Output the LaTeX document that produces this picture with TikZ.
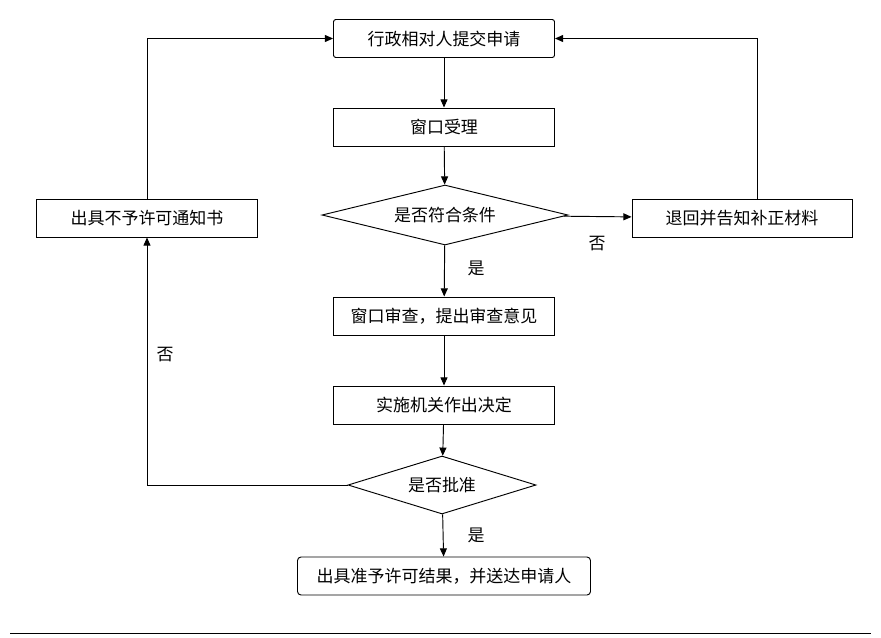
\documentclass[tikz,border=0pt]{standalone}
\usepackage{fontspec}
\setmainfont{Noto Sans CJK SC}
\usetikzlibrary{shapes.geometric,arrows.meta}
\begin{document}
\begin{tikzpicture}[x=0.03cm,y=-0.03cm,
  box/.style={draw,thick,minimum width=221*0.03cm,minimum height=38*0.03cm,inner sep=0pt,font=\fontsize{14.5}{16}\selectfont},
  dia/.style={draw,thick,diamond,aspect=4.2,inner sep=0pt,font=\fontsize{14.5}{16}\selectfont},
  lab/.style={font=\fontsize{14.5}{16}\selectfont},
  arr/.style={thick,-{Triangle[length=7pt,width=6pt]}}]
\useasboundingbox (0,0) rectangle (881,637);
\node[box,rounded corners=2pt] (a) at (444,38.5) {行政相对人提交申请};
\node[box] (b) at (444,127) {窗口受理};
\node[dia,minimum width=246*0.03cm,minimum height=60*0.03cm] (c) at (445,215) {是否符合条件};
\node[box,minimum width=220*0.03cm] (r) at (742,218) {退回并告知补正材料};
\node[box] (l) at (147,218) {出具不予许可通知书};
\node[box] (d) at (444,316) {窗口审查，提出审查意见};
\node[box] (e) at (444,405) {实施机关作出决定};
\node[dia,minimum width=188*0.03cm,minimum height=58*0.03cm] (f) at (442,485) {是否批准};
\node[box,rounded corners=3pt,minimum width=293*0.03cm] (g) at (444,576) {出具准予许可结果，并送达申请人};
\draw[arr] (a) -- (b);
\draw[arr] (b) -- (c);
\draw[arr] (c) -- (r);
\draw[arr] (r.north -| 757,0) |- (a.east);
\draw[arr] (l.north) |- (a.west);
\draw[arr] (c) -- (d);
\draw[arr] (d) -- (e);
\draw[arr] (e) -- (f);
\draw[arr] (f) -- (g);
\draw[arr] (f.west) -| (l.south);
\node[lab] (n1) at (597,244) {否};
\node[lab] (y1) at (476,268) {是};
\node[lab] (n2) at (165,355) {否};
\node[lab] (y2) at (476,535) {是};
\coordinate (p) at (10,633); \coordinate (q) at (871,633);
\draw[thick] (p) -- (q);
\end{tikzpicture}
\end{document}
